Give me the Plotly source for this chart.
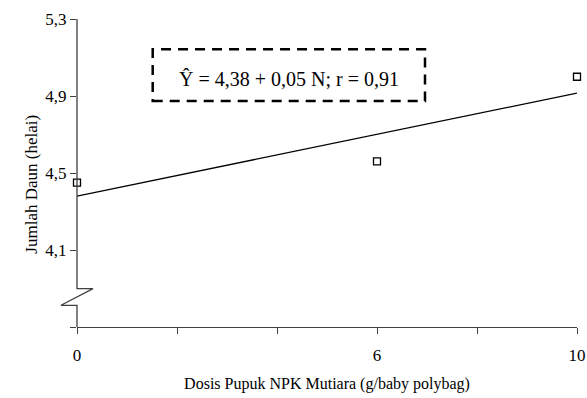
import plotly.graph_objects as go

# Data
dosis = [0, 6, 10]
jumlah_daun = [4.45, 4.56, 5.00]
trend_x = [0, 10]
trend_y = [4.38, 4.915]
y_tickvals = [3.7, 4.1, 4.5, 4.9, 5.3]
y_ticktext = ["", "4,1", "4,5", "4,9", "5,3"]
x_tickvals = [0, 2, 4, 6, 8, 10]
x_ticktext = ["0", "", "", "6", "", "10"]
equation = "Ŷ = 4,38 + 0,05 N; r = 0,91"
x_title = "Dosis Pupuk NPK Mutiara (g/baby polybag)"
y_title = "Jumlah Daun (helai)"

FONT = "Liberation Serif, Times New Roman, serif"
AX = "#404040"
PH = 307.7  # plot height px
PW = 500.0  # plot width px

fig = go.Figure()
fig.add_trace(go.Scatter(x=trend_x, y=trend_y, mode="lines",
                         line=dict(color="black", width=1.3), cliponaxis=False,
                         hoverinfo="skip", showlegend=False))
fig.add_trace(go.Scatter(x=dosis, y=jumlah_daun, mode="markers",
                         marker=dict(symbol="square-open", size=7, color="black",
                                     line=dict(width=1.3)),
                         cliponaxis=False, showlegend=False))

# y-axis line with break (paper coords)
yb_top = (326.7 - 288.3) / PH
yb_bot = (326.7 - 305.0) / PH
dx = 16 / PW
path = (f"M 0,1 L 0,{yb_top} L {dx},{yb_top} L {-dx},{yb_bot} "
        f"L 0,{yb_bot} L 0,0")
fig.add_shape(type="path", xref="paper", yref="paper", path=path,
              line=dict(color=AX, width=1.3), layer="above")

# dashed equation box
fig.add_shape(type="rect", xref="paper", yref="paper",
              x0=(152.7 - 77) / PW, x1=(425 - 77) / PW,
              y0=(326.7 - 101) / PH, y1=(326.7 - 49.3) / PH,
              line=dict(color="black", width=2.5, dash="10px,7px"))
fig.add_annotation(xref="paper", yref="paper",
                   x=(289 - 77) / PW, y=(326.7 - 66) / PH,
                   text=equation, showarrow=False,
                   font=dict(family=FONT, size=20, color="black"))

# y-axis title
fig.add_annotation(xref="paper", yref="paper",
                   x=(20 - 77) / PW, y=(326.7 - 184) / PH,
                   text=y_title, textangle=-90, showarrow=False,
                   font=dict(family=FONT, size=17, color="black"))

fig.update_layout(
    width=587, height=398,
    margin=dict(l=77, r=10, t=19, b=71, autoexpand=False),
    paper_bgcolor="white", plot_bgcolor="white",
    font=dict(family=FONT, color="black"),
    xaxis=dict(range=[0, 10], tickvals=x_tickvals, ticktext=x_ticktext,
               ticks="outside", ticklen=6, tickcolor=AX, tickwidth=1.3,
               showline=True, linecolor=AX, linewidth=1.3,
               showgrid=False, zeroline=False, automargin=False,
               ticklabelstandoff=6,
               tickfont=dict(size=17, family=FONT),
               title=dict(text=x_title,
                          font=dict(size=16, family=FONT), standoff=14)),
    yaxis=dict(range=[3.7, 5.3], tickvals=y_tickvals, ticktext=y_ticktext,
               ticks="outside", ticklen=6, tickcolor=AX, tickwidth=1.3,
               showline=False, showgrid=False, zeroline=False, automargin=False,
               tickfont=dict(size=17, family=FONT)),
)

fig.write_html("out.html", config={"displayModeBar": False},
               post_script="document.body.style.margin='0';document.body.style.overflow='hidden';")
